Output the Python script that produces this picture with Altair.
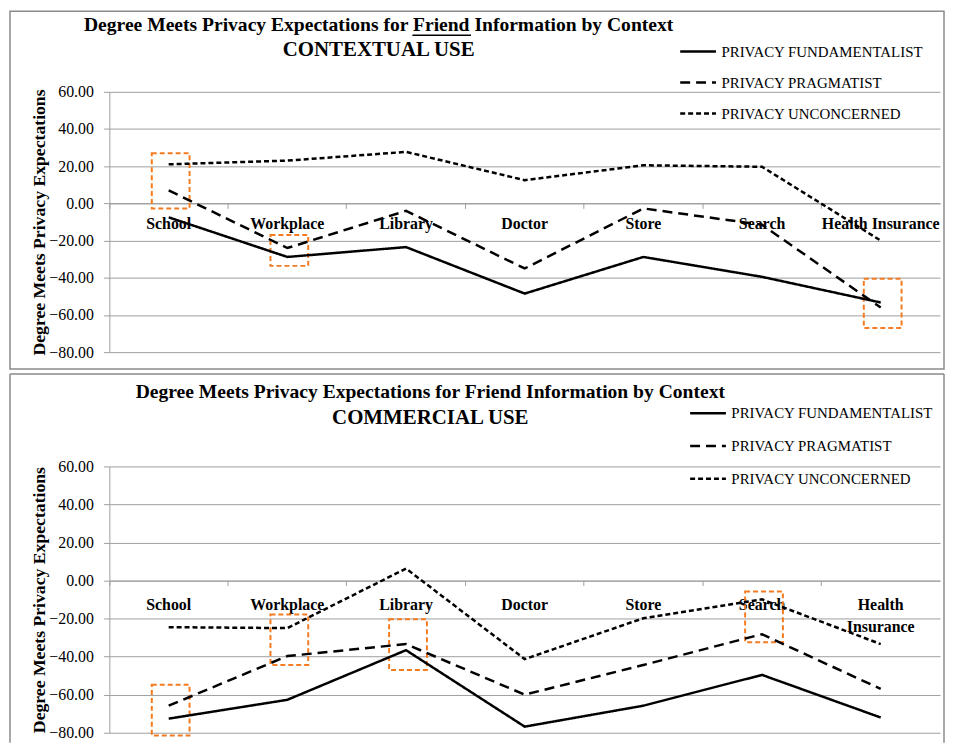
import altair as alt
import pandas as pd

contexts = ["School", "Workplace", "Library", "Doctor", "Store", "Search", "Health Insurance"]
groups = ["PRIVACY FUNDAMENTALIST", "PRIVACY PRAGMATIST", "PRIVACY UNCONCERNED"]

# Contextual use panel
ctx_fund = [-7.5, -28.8, -23.5, -48.5, -28.8, -39.5, -53.3]
ctx_prag = [7.0, -24.0, -4.0, -35.0, -2.7, -11.5, -56.0]
ctx_unc = [21.0, 23.0, 27.7, 12.5, 20.5, 19.7, -20.0]

# Commercial use panel
com_fund = [-72.6, -62.7, -36.6, -76.8, -65.8, -49.6, -72.0]
com_prag = [-65.8, -39.7, -33.4, -60.0, -44.4, -28.2, -57.0]
com_unc = [-24.5, -25.0, 6.3, -41.3, -19.8, -9.9, -33.4]

# Highlight boxes (orange dashed)
ctx_hl_context = ["School", "Workplace", "Health Insurance"]
ctx_hl_top = [27.0, -17.0, -40.5]
ctx_hl_bottom = [-2.7, -33.6, -67.0]
com_hl_context = ["School", "Workplace", "Library", "Search"]
com_hl_top = [-54.8, -17.8, -20.4, -5.7]
com_hl_bottom = [-81.5, -44.4, -47.0, -32.4]

y_ticks = [-80, -60, -40, -20, 0, 20, 40, 60]

TITLE = "Degree Meets Privacy Expectations for Friend Information by Context"
YTITLE = "Degree Meets Privacy Expectations"
FONT = "Liberation Serif"
GRID = "#9e9e9e"
ORANGE = "#F47B20"
W = 836


def make_panel(fund, prag, unc, hl_ctx, hl_top, hl_bot, subtitle, height,
               title_x, title_y, sub_y, legend_x, legend_y, row_pad,
               frame_top, frame_bottom, full_frame, two_line, label_pad, underline):
    rows = []
    for g, vals in zip(groups, [fund, prag, unc]):
        for c, v in zip(contexts, vals):
            rows.append({"context": c, "group": g, "value": v})
    df = pd.DataFrame(rows)
    hl = pd.DataFrame({"context": hl_ctx, "value": hl_top, "bottom": hl_bot})
    one = pd.DataFrame({"k": [0]})

    zero_off = -height * 80.0 / 140.0
    label_expr = ("datum.value == 'Health Insurance' ? ['Health', 'Insurance'] : datum.label"
                  if two_line else "datum.label")

    xscale = alt.Scale(type="band", domain=contexts, paddingInner=0, paddingOuter=0)
    yscale = alt.Scale(domain=[-80, 60], nice=False, zero=False)

    xaxis = alt.Axis(offset=zero_off, bandPosition=0,
                     labelAngle=0, labelFont=FONT, labelFontSize=16,
                     labelFontWeight="bold", labelColor="black",
                     labelPadding=label_pad, labelLineHeight=22,
                     labelOverlap=False, labelLimit=400,
                     labelExpr=label_expr, grid=False,
                     domainColor=GRID, tickColor=GRID, tickSize=5)
    yaxis = alt.Axis(values=y_ticks, format=".2f", labelFont=FONT,
                     labelFontSize=16, labelColor="black", labelPadding=10,
                     labelOverlap=False,
                     tickSize=6, tickColor=GRID, domainColor=GRID,
                     gridColor=GRID, titleFont=FONT, titleFontSize=17.8,
                     titleFontWeight="bold", titleColor="black",
                     titlePadding=0)

    lines = alt.Chart(df).mark_line(color="black", strokeWidth=2.5).encode(
        x=alt.X("context:N", sort=contexts, scale=xscale, title=None, axis=xaxis),
        y=alt.Y("value:Q", scale=yscale, title=YTITLE, axis=yaxis),
        strokeDash=alt.StrokeDash(
            "group:N", sort=groups,
            scale=alt.Scale(domain=groups, range=[[1, 0], [10, 6], [5, 3]]),
            legend=alt.Legend(title=None, orient="none", legendX=legend_x, legendY=legend_y,
                              symbolType="stroke", symbolSize=1296, clipHeight=15,
                              symbolStrokeWidth=2.5, symbolStrokeColor="black",
                              labelFont=FONT, labelFontSize=15, labelColor="black",
                              labelOffset=4, rowPadding=row_pad, padding=0,
                              labelLimit=400)))

    boxes = alt.Chart(hl).mark_bar(width=38, fillOpacity=0, stroke=ORANGE,
                                   strokeDash=[5, 3], strokeWidth=2, xOffset=2).encode(
        x=alt.X("context:N", sort=contexts, scale=xscale, title=None, axis=xaxis),
        y=alt.Y("value:Q", scale=yscale, title=YTITLE, axis=yaxis),
        y2="bottom:Q")

    t1 = alt.Chart(one).mark_text(font=FONT, fontSize=19.7, fontWeight="bold",
                                  align="center", baseline="middle", color="black").encode(
        x=alt.value(title_x), y=alt.value(title_y), text=alt.value(TITLE))
    t2 = alt.Chart(one).mark_text(font=FONT, fontSize=21, fontWeight="bold",
                                  align="center", baseline="middle", color="black").encode(
        x=alt.value(title_x), y=alt.value(sub_y), text=alt.value(subtitle))

    layers = [boxes, lines, t1, t2]

    if underline:
        ul = alt.Chart(one).mark_rule(color="black", strokeWidth=1.5).encode(
            x=alt.value(underline[0]), x2=alt.value(underline[1]),
            y=alt.value(underline[2]))
        layers.append(ul)

    if full_frame:
        frame = alt.Chart(one).mark_rect(fillOpacity=0, stroke="#8a8a8a", strokeWidth=1.5).encode(
            x=alt.value(-100), x2=alt.value(840),
            y=alt.value(frame_top), y2=alt.value(frame_bottom))
        layers.append(frame)
    else:
        for xa, xb, ya, yb in [(-100, 840, frame_top, frame_top),
                               (-100, -100, frame_top, frame_bottom),
                               (840, 840, frame_top, frame_bottom)]:
            r = alt.Chart(one).mark_rule(color="#8a8a8a", strokeWidth=1.5).encode(
                x=alt.value(xa), x2=alt.value(xb), y=alt.value(ya), y2=alt.value(yb))
            layers.append(r)

    return alt.layer(*layers).properties(width=W, height=height)


top = make_panel(ctx_fund, ctx_prag, ctx_unc, ctx_hl_context, ctx_hl_top, ctx_hl_bottom,
                 "CONTEXTUAL USE", 262,
                 title_x=271, title_y=-67, sub_y=-42,
                 legend_x=573, legend_y=-48, row_pad=15.2,
                 frame_top=-81, frame_bottom=279, full_frame=True,
                 two_line=False, label_pad=7, underline=(305, 364, -57))

bottom = make_panel(com_fund, com_prag, com_unc, com_hl_context, com_hl_top, com_hl_bottom,
                    "COMMERCIAL USE", 268,
                    title_x=323, title_y=-75, sub_y=-49,
                    legend_x=583, legend_y=-61, row_pad=17,
                    frame_top=-93, frame_bottom=278, full_frame=False,
                    two_line=True, label_pad=11, underline=None)

chart = alt.vconcat(top, bottom, spacing=3).resolve_scale(
    strokeDash="independent").resolve_legend(strokeDash="independent").properties(
    padding={"left": 1, "top": 0, "right": 0, "bottom": 0}
).configure_view(stroke=None)

chart.save("out.html", embed_options={"renderer": "svg", "actions": False})
